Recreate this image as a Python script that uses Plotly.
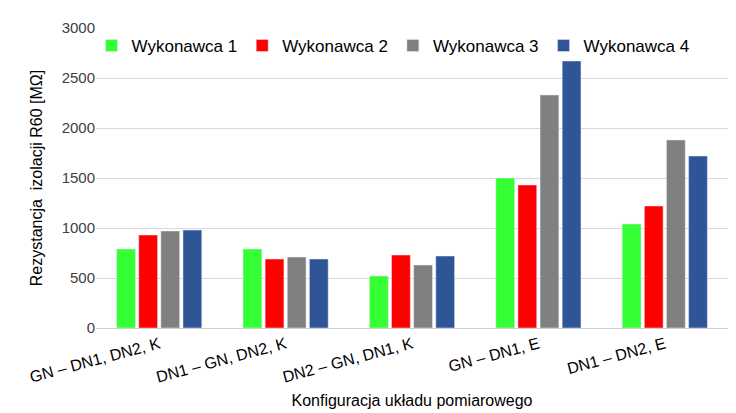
import plotly.graph_objects as go

categories = ["GN – DN1, DN2, K", "DN1 – GN, DN2, K", "DN2 – GN, DN1, K", "GN – DN1, E", "DN1 – DN2, E"]
w1 = [790, 790, 520, 1500, 1040]
w2 = [930, 690, 730, 1430, 1220]
w3 = [970, 710, 630, 2330, 1880]
w4 = [980, 690, 720, 2670, 1720]
names = ["Wykonawca 1", "Wykonawca 2", "Wykonawca 3", "Wykonawca 4"]
colors = ["#33FF33", "#FF0000", "#808080", "#2F5597"]

fig = go.Figure()
for n, v, c in zip(names, [w1, w2, w3, w4], colors):
    fig.add_trace(go.Bar(x=categories, y=v, name=n, marker_color=c))

fig.update_layout(
    width=736, height=413, plot_bgcolor="white", paper_bgcolor="white",
    font=dict(family="Liberation Sans, Arial", size=15, color="#404040"),
    margin=dict(l=88, r=16, t=20, b=93, autoexpand=False),
    barmode="group", bargap=0.3, bargroupgap=0.15,
    legend=dict(orientation="h", x=0.47, xanchor="center", y=1.0, yanchor="top",
                font=dict(size=17, color="#000"), bgcolor="rgba(255,255,255,0)"),
    xaxis=dict(tickangle=-15, showline=True, linecolor="#d0d0d0", automargin=False,
               title=dict(text="Konfiguracja układu pomiarowego", font=dict(size=16, color="#000"), standoff=10),
               tickfont=dict(size=16, color="#000")),
    yaxis=dict(range=[0, 3000], dtick=500, gridcolor="#d9d9d9", zeroline=False, automargin=False,
               title=dict(text="Rezystancja  izolacji R60 [MΩ]", font=dict(size=16, color="#000")),
               tickfont=dict(size=15, color="#404040")),
)
fig.write_html("out.html")
